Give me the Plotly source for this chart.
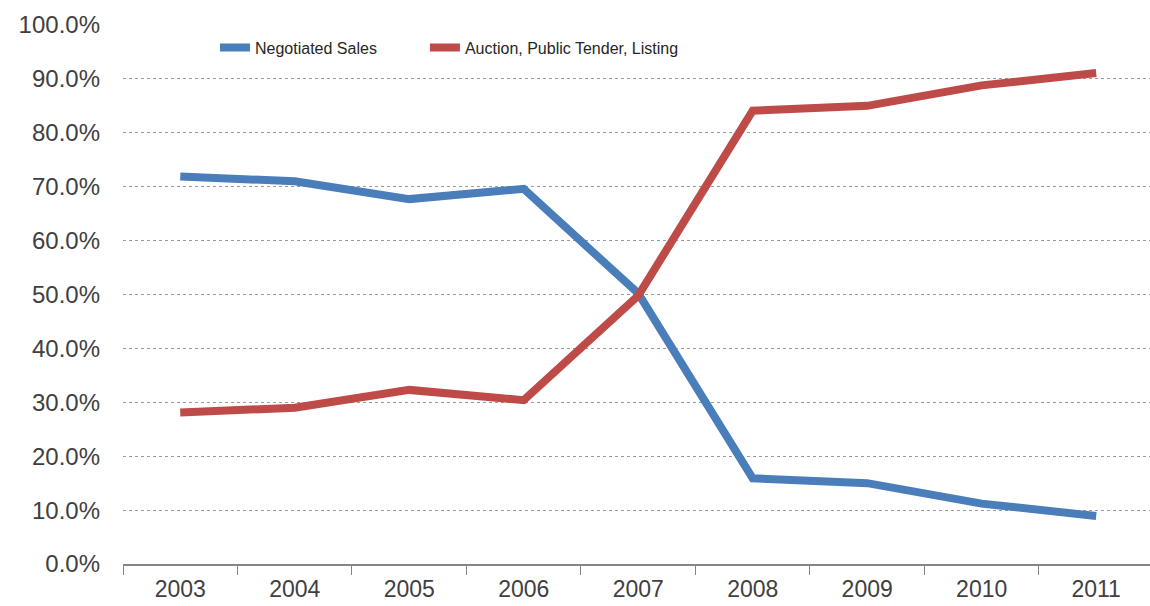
import plotly.graph_objects as go

years = ["2003", "2004", "2005", "2006", "2007", "2008", "2009", "2010", "2011"]
negotiated = [71.9, 71.0, 67.7, 69.6, 50.2, 15.9, 15.0, 11.2, 8.9]
auction = [28.1, 29.0, 32.3, 30.4, 49.8, 84.1, 85.0, 88.8, 91.1]
y_ticks = [0, 10, 20, 30, 40, 50, 60, 70, 80, 90, 100]
y_tick_labels = [f"{v:.1f}%" for v in y_ticks]

fig = go.Figure()
fig.add_trace(go.Scatter(
    x=years, y=negotiated, mode="lines", name="Negotiated Sales",
    line=dict(color="#4A7EBB", width=8), legend="legend",
))
fig.add_trace(go.Scatter(
    x=years, y=auction, mode="lines", name="Auction, Public Tender, Listing",
    line=dict(color="#BE4B48", width=8), legend="legend2",
))

legend_style = dict(
    orientation="h", yanchor="middle", y=0.958, xanchor="left",
    font=dict(family="Liberation Sans, Arial, sans-serif", size=16, color="#262626"),
    bgcolor="rgba(0,0,0,0)", itemwidth=30,
)

fig.update_layout(
    width=1150, height=606,
    margin=dict(l=123, r=0, t=25, b=42),
    paper_bgcolor="white", plot_bgcolor="white",
    font=dict(family="Liberation Sans, Arial, sans-serif", color="#404040"),
    showlegend=True,
    legend=dict(legend_style, x=0.0896),
    legend2=dict(legend_style, x=0.294),
    xaxis=dict(
        type="category", range=[-0.5, 8.47], automargin=False,
        showgrid=False, showline=True, linecolor="#868686", linewidth=1.5,
        ticks="outside", tickson="boundaries", ticklen=9, tickcolor="#868686",
        tickfont=dict(size=23), ticklabelstandoff=4, zeroline=False,
    ),
    yaxis=dict(
        range=[0, 100], tickvals=y_ticks, ticktext=y_tick_labels, automargin=False,
        showgrid=True, gridcolor="#9a9a9a", gridwidth=1, griddash="dot",
        showline=False, zeroline=False, ticks="",
        tickfont=dict(size=24), ticklabelstandoff=22,
    ),
)

fig.write_html("out.html")
